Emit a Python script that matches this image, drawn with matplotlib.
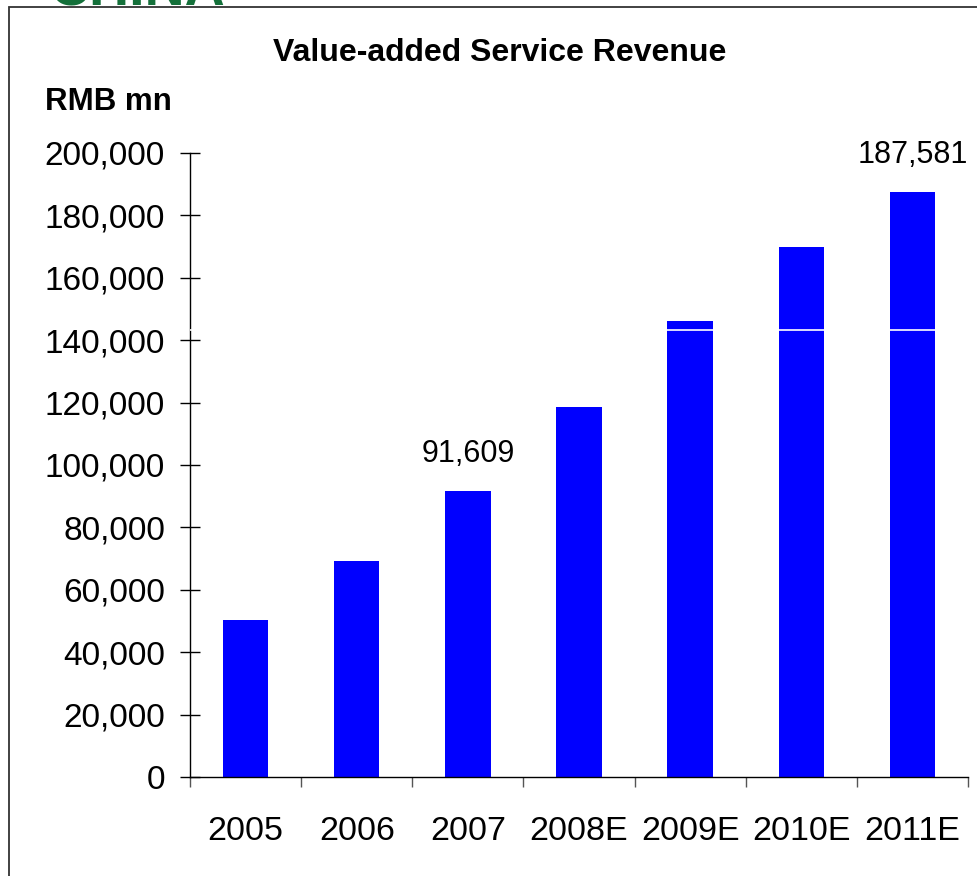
import matplotlib
matplotlib.use('Agg')
import matplotlib.pyplot as plt
import matplotlib.ticker as ticker
from matplotlib.patches import Rectangle
import numpy as np

plt.rcParams['font.family'] = ['Liberation Sans', 'DejaVu Sans']

years = ["2005", "2006", "2007", "2008E", "2009E", "2010E", "2011E"]
revenue = [50300, 69200, 91609, 118600, 146200, 169900, 187581]
labelled = {"2007": "91,609", "2011E": "187,581"}
white_line = 143300

fig = plt.figure(figsize=(9.77, 8.76), dpi=100)
ax = fig.add_axes([190/977., 1 - 777/876., (968 - 190)/977., (777 - 153)/876.])

x = np.arange(len(years))
ax.bar(x, revenue, width=0.41, color='#0000ff', zorder=2)
ax.axhline(white_line, color='white', linewidth=1.2, zorder=3)

for i, (yr, v) in enumerate(zip(years, revenue)):
    if yr in labelled:
        ax.annotate(labelled[yr], (i, v), xytext=(0, 16), textcoords='offset points',
                    ha='center', va='bottom', fontsize=22)

ax.set_ylim(0, 200000)
ax.set_xlim(-0.5, len(years) - 0.5)
ax.yaxis.set_major_locator(ticker.MultipleLocator(20000))
ax.yaxis.set_major_formatter(ticker.FuncFormatter(lambda v, pos: '{:,.0f}'.format(v)))

ax.set_xticks(np.arange(len(years) + 1) - 0.5)
ax.set_xticklabels([])
ax.set_xticks(x, minor=True)
ax.set_xticklabels(years, minor=True)
ax.tick_params(axis='x', which='major', direction='out', length=7, width=1, color='#555555')
ax.tick_params(axis='x', which='minor', length=0, labelsize=24.5, pad=28)
ax.tick_params(axis='y', direction='inout', length=14, width=1, labelsize=24, pad=11)

for s in ['top', 'right']:
    ax.spines[s].set_visible(False)
for s in ['left', 'bottom']:
    ax.spines[s].set_linewidth(1)
    ax.spines[s].set_color('black')

fig.text(500/977., 1 - 53/876., "Value-added Service Revenue", ha='center', va='center',
         fontsize=23, fontweight='bold')
fig.text(45/977., 1 - 102/876., "RMB mn", ha='left', va='center',
         fontsize=22.5, fontweight='bold')

# bit of the slide heading cut off above the frame
fig.text(50/977., 1 - 6/876., "CHINA", ha='left', va='baseline', fontsize=40,
         fontweight='bold', color='#14703a')

fig.patches.append(Rectangle((9/977., -0.1), 2, 1.1 - 7/876., transform=fig.transFigure,
                             fill=False, edgecolor='#333333', linewidth=1.3))

plt.savefig('out.png', dpi=100)
